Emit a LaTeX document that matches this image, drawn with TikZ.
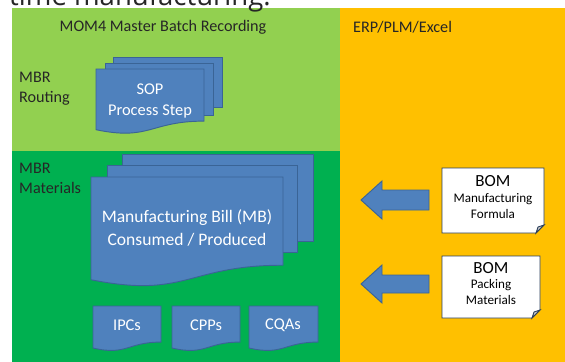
\documentclass[tikz,border=0pt]{standalone}
\usepackage{fontspec}
\setmainfont{Carlito}
\newfontfamily\headfont{Open Sans}
\usepackage{xcolor}
\usepackage{tikz}

\definecolor{routegreen}{HTML}{92D050}
\definecolor{matgreen}{HTML}{00B050}
\definecolor{erporange}{HTML}{FFC000}
\definecolor{docblue}{HTML}{4F81BD}
\definecolor{docline}{HTML}{3A6496}
\definecolor{noteline}{HTML}{2B3F5C}
\definecolor{foldgray}{HTML}{CBCBCB}

% document shape: left x, top y, width, height
\newcommand{\docshape}[4]{%
  \draw[docbox] (#1,#2) -- ({#1+#3},#2) -- ({#1+#3},{#2+0.802*#4})
    .. controls ({#1+0.5*#3},{#2+0.802*#4}) and ({#1+0.5*#3},{#2+1.1075*#4})
    .. (#1,{#2+0.934*#4}) -- cycle;}

\begin{document}
\begin{tikzpicture}[x=0.3mm, y=-0.3mm,
    every node/.style={inner sep=0pt, align=center},
    docbox/.style={fill=docblue, draw=docline, line width=0.8pt},
    doctext/.style={text=white, font=\fontsize{14}{18}\selectfont},
    lanetext/.style={text=black!85, font=\fontsize{13.8}{17}\selectfont},
    blockarrow/.style={fill=docblue, draw=docline, line width=0.8pt},
    notebox/.style={fill=white, draw=noteline, line width=0.8pt},
    bomtitle/.style={font=\fontsize{14.5}{17}\selectfont},
    bomtext/.style={font=\fontsize{11.2}{13.5}\selectfont}]
        \useasboundingbox (0,0) rectangle (565,362);
        \clip (0,0) rectangle (565,362);

        % Define the lanes
        \fill[routegreen] (12,8) rectangle (340,151);
        \fill[matgreen] (12,151) rectangle (340,362);
        \fill[erporange] (340,8) rectangle (565,362);

        % Cut-off text above the lanes
        \node[anchor=base west, font=\headfont\fontsize{23.5}{27}\selectfont, text=black!85] (cut) at (9,5) {time manufacturing.};

        % Lane headings
        \node[lanetext] (mom) at (163,27) {MOM4 Master Batch Recording};
        \node[lanetext, anchor=west] (erp) at (353,27) {ERP/PLM/Excel};
        \node[lanetext, anchor=west, align=left] (routing) at (19,89) {MBR\\Routing};
        \node[lanetext, anchor=west, align=left] (materials) at (19,178) {MBR\\Materials};

        % SOP stack
        \draw[docbox] (113,57) rectangle (222,107);
        \draw[docbox] (105,63) rectangle (213,115);
        \docshape{96}{69}{108}{65}
        \node[doctext] (sop) at (150,101) {SOP\\Process Step};

        % Manufacturing bill stack
        \draw[docbox] (122,154) rectangle (313,241);
        \draw[docbox] (107,165) rectangle (297,252);
        \docshape{91}{177}{192}{110}
        \node[doctext, font=\fontsize{15}{19}\selectfont] (mb) at (187,228) {Manufacturing Bill (MB)\\Consumed / Produced};

        % Small documents
        \docshape{93}{306}{68}{45}
        \docshape{172}{306}{68}{45}
        \docshape{249}{306}{69}{45}
        \node[doctext] (ipc) at (127,325) {IPCs};
        \node[doctext] (cpp) at (206,325) {CPPs};
        \node[doctext] (cqa) at (283,325) {CQAs};

        % Block arrows
        \draw[blockarrow] (361,200) -- (382,181) -- (382,190) -- (429,190) -- (429,210) -- (382,210) -- (382,219) -- cycle;
        \draw[blockarrow] (361,284) -- (382,265) -- (382,275) -- (429,275) -- (429,293) -- (382,293) -- (382,303) -- cycle;

        % BOM notes with folded corner
        \draw[notebox] (442,168) -- (544,168) -- (544,225) -- (536,233) -- (442,233) -- cycle;
        \draw[notebox, fill=foldgray] (536,233) -- (538,227) -- (544,225) -- cycle;
        \node[bomtitle] (bom1) at (493,181) {BOM};
        \node[bomtext] (bom1t) at (493,206) {Manufacturing\\Formula};

        \draw[notebox] (442,256) -- (540,256) -- (540,310) -- (532,318) -- (442,318) -- cycle;
        \draw[notebox, fill=foldgray] (532,318) -- (534,312) -- (540,310) -- cycle;
        \node[bomtitle] (bom2) at (491,268) {BOM};
        \node[bomtext] (bom2t) at (491,292) {Packing\\Materials};

    \end{tikzpicture}
\end{document}
